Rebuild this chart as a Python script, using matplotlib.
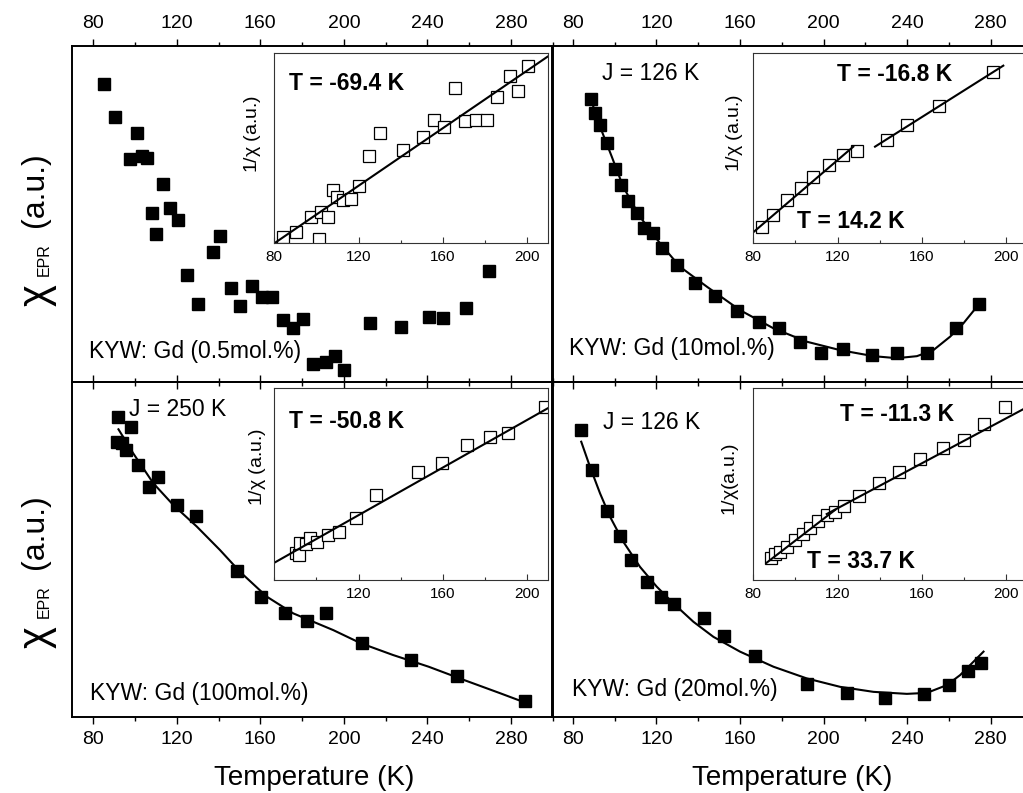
import numpy as np
import matplotlib.pyplot as plt
from matplotlib.ticker import MultipleLocator

plt.rcParams['font.family'] = ['Liberation Sans', 'DejaVu Sans']
plt.rcParams['mathtext.fontset'] = 'custom'
plt.rcParams['mathtext.rm'] = 'Liberation Sans'
plt.rcParams['mathtext.it'] = 'Liberation Sans:italic'
plt.rcParams['mathtext.default'] = 'regular'

# ---- data (chi in arbitrary units, 0-100 of panel height) ----
# KYW: Gd 0.5 mol.%
gd05_T = [85.3, 90.6, 97.4, 101.2, 103.4, 105.7, 108.2, 109.9, 113.2, 116.6, 120.4,
          124.8, 130.3, 137.5, 140.9, 146.1, 150.3, 155.8, 160.8, 165.4, 170.9, 175.7,
          180.4, 185.4, 191.6, 195.9, 200.3, 212.4, 227.3, 240.6, 247.6, 258.7, 269.5]
gd05_chi = [88.5, 78.9, 66.4, 74.1, 67.2, 66.7, 50.1, 43.9, 58.8, 51.6, 48.1,
            31.7, 23.2, 38.5, 43.3, 27.8, 22.4, 28.5, 25.3, 25.3, 18.5, 16.1,
            18.7, 5.3, 6.0, 7.6, 3.5, 17.4, 16.2, 19.3, 19.0, 21.9, 33.0]
gd05_inv_T = [84.1, 90.1, 97.4, 101.2, 102.0, 105.4, 107.8, 109.6, 112.7, 116.4, 120.3,
              124.9, 130.0, 141.0, 150.3, 155.5, 160.6, 165.5, 170.4, 175.7, 180.6,
              185.7, 191.7, 195.5, 200.2]
gd05_inv = [3.1, 5.8, 14.0, 2.4, 16.4, 14.0, 27.9, 24.4, 22.7, 23.4, 30.2,
            45.9, 58.0, 48.9, 55.9, 64.7, 61.2, 81.6, 64.3, 64.7, 64.7,
            76.9, 88.0, 80.1, 93.0]
gd05_fit_T = [80, 209.5]
gd05_fit = [0.0, 97.9]

# KYW: Gd 10 mol.%
gd10_T = [88.7, 90.6, 93.0, 96.2, 100.2, 102.9, 106.5, 110.6, 114.1, 118.5, 122.8, 130.0,
          138.6, 148.1, 158.7, 169.0, 178.9, 188.8, 198.8, 209.2, 223.4, 235.1, 249.5,
          263.3, 274.2]
gd10_chi = [84.0, 80.1, 76.4, 71.0, 63.2, 58.5, 53.9, 50.3, 45.7, 44.2, 39.9, 34.7,
            29.5, 25.6, 21.1, 17.7, 15.9, 11.9, 8.6, 9.6, 7.9, 8.5, 8.6,
            16.1, 23.1]
gd10_curve_T = [88.2, 93.0, 98.6, 104.1, 112.1, 121.7, 131.3, 144.1, 160.0, 176.0, 192.0,
                207.9, 223.9, 235.1, 244.7, 252.6, 260.6, 267.0, 273.4]
gd10_curve = [84.8, 75.9, 67.0, 58.0, 49.1, 41.2, 34.2, 28.3, 21.3, 15.9, 11.9,
              9.4, 7.6, 7.0, 7.6, 9.4, 13.4, 17.4, 22.3]
gd10_inv_T = [84.0, 89.5, 96.1, 102.6, 108.2, 116.0, 122.7, 129.0, 143.2, 152.7, 168.0, 193.5]
gd10_inv = [8.7, 14.8, 22.7, 28.9, 34.6, 41.1, 46.3, 48.6, 54.2, 62.1, 72.0, 90.0]
gd10_fit1_T = [80, 127.4]
gd10_fit1 = [5.8, 50.7]
gd10_fit2_T = [137.7, 198.5]
gd10_fit2 = [50.7, 93.2]

# KYW: Gd 100 mol.%
gd100_T = [91.3, 92.1, 93.7, 95.7, 98.0, 101.6, 106.9, 111.2, 120.0, 129.2, 148.8,
           160.4, 171.9, 182.5, 191.6, 208.7, 232.1, 254.0, 286.8]
gd100_chi = [82.1, 89.6, 81.6, 79.6, 86.4, 75.2, 68.7, 71.5, 63.2, 59.9, 43.6,
             35.7, 31.0, 28.6, 31.0, 22.0, 17.0, 12.3, 4.8]
gd100_curve_T = [92.1, 99.2, 108.8, 118.4, 129.6, 140.7, 150.3, 163.1, 175.8, 195.0,
                 208.1, 223.5, 240.6, 257.7, 274.8, 286.8]
gd100_curve = [85.8, 78.6, 69.7, 63.2, 56.8, 49.8, 43.3, 35.9, 30.9, 25.9,
               22.0, 18.5, 15.0, 11.0, 7.1, 4.3]
gd100_inv_T = [90.1, 91.8, 92.2, 95.1, 96.9, 100.3, 105.4, 110.5, 118.9, 128.1,
               148.1, 159.5, 171.4, 182.4, 190.7, 208.1]
gd100_inv = [13.9, 13.0, 19.1, 18.8, 21.7, 20.0, 23.5, 25.2, 32.2, 44.3,
             56.5, 60.9, 70.4, 74.8, 76.8, 90.4]
gd100_fit_T = [80, 209.5]
gd100_fit = [9.0, 89.5]

# KYW: Gd 20 mol.%
gd20_T = [84.0, 89.2, 96.2, 102.6, 107.7, 115.6, 122.3, 128.6, 142.8, 152.4, 167.4,
          192.3, 211.4, 229.5, 248.3, 260.3, 269.1, 275.3]
gd20_chi = [85.6, 73.7, 61.4, 54.0, 46.8, 40.3, 35.9, 33.7, 29.4, 24.2, 18.2,
            9.8, 7.1, 5.8, 6.8, 9.5, 13.8, 16.2]
gd20_curve_T = [84.0, 88.2, 93.0, 97.8, 104.1, 112.1, 120.1, 128.1, 137.7, 147.3, 160.0,
                176.0, 192.0, 207.9, 223.9, 239.9, 249.5, 259.0, 265.4, 271.8, 276.6]
gd20_curve = [82.1, 74.6, 66.7, 59.7, 52.3, 44.8, 38.9, 33.9, 28.4, 23.9, 19.5,
              15.0, 11.5, 9.0, 7.5, 6.9, 7.2, 9.5, 12.5, 16.5, 19.5]
gd20_inv_T = [88.2, 90.3, 92.7, 96.1, 99.8, 103.4, 106.9, 110.8, 114.8, 118.7, 123.0,
              130.2, 139.6, 149.1, 159.0, 170.0, 179.9, 189.3, 199.4]
gd20_inv = [11.3, 13.6, 14.8, 17.4, 20.9, 24.0, 27.3, 30.8, 33.9, 35.3, 38.6,
            43.8, 50.8, 56.5, 63.1, 69.0, 73.0, 81.4, 90.4]
gd20_fit1_T = [86.3, 118.7]
gd20_fit1 = [9.0, 36.5]
gd20_fit2_T = [114.8, 209.5]
gd20_fit2 = [34.4, 90.0]

W, H = 1023, 793
fig = plt.figure(figsize=(W / 100, H / 100), dpi=100)


def px_rect(x0, y0, x1, y1):
    # pixel box (top-left origin) -> figure fraction rect
    return [x0 / W, 1 - y1 / H, (x1 - x0) / W, (y1 - y0) / H]


def main_axes(rect, top):
    ax = fig.add_axes(rect)
    ax.set_facecolor('none')
    ax.set_xlim(70, 300)
    ax.set_ylim(0, 100)
    ax.xaxis.set_major_locator(MultipleLocator(40))
    ax.xaxis.set_minor_locator(MultipleLocator(20))
    ax.set_yticks([])
    for s in ax.spines.values():
        s.set_linewidth(1.4)
    ax.tick_params(axis='x', which='both', direction='out', top=True, bottom=True,
                   labeltop=top, labelbottom=not top, width=1.0, labelsize=14, pad=5)
    ax.tick_params(axis='x', which='major', length=5)
    ax.tick_params(axis='x', which='minor', length=3)
    return ax


def inset_axes(rect, ticks, ylab, ylab_x, ylab_y):
    ax = fig.add_axes(rect, zorder=5)
    ax.set_xlim(80, 209.5)
    ax.set_ylim(0, 100)
    ax.set_xticks(ticks)
    ax.xaxis.set_minor_locator(MultipleLocator(20))
    ax.set_yticks([])
    for s in ax.spines.values():
        s.set_linewidth(0.8)
        s.set_color('#333333')
    ax.tick_params(axis='x', which='both', direction='in', top=False, labelsize=11, pad=5,
                   width=0.8, color='#333333')
    ax.tick_params(axis='x', which='major', length=4)
    ax.tick_params(axis='x', which='minor', length=2.5)
    ax.text(ylab_x, ylab_y, ylab, transform=ax.transAxes, rotation=90,
            ha='center', va='center', fontsize=14)
    return ax


def chi_label(y_chi):
    # chi_EPR (a.u.) written bottom-to-top; big chi, small EPR subscript
    fig.text(37 / W, 1 - y_chi / H, '\u03c7', rotation=90, ha='center', va='center', fontsize=30)
    fig.text(44 / W, 1 - (y_chi - 35) / H, 'EPR', rotation=90, ha='center', va='center', fontsize=11.5)
    fig.text(35 / W, 1 - (y_chi - 105) / H, '(a.u.)', rotation=90, ha='center', va='center',
             fontsize=23)


mkw = dict(ls='none', marker='s', ms=9, color='black')
okw = dict(ls='none', marker='s', ms=8.5, mfc='white', mec='black', mew=0.9)
lkw = dict(color='black', lw=1.5)
ylab_inv = r'1/$\chi$ (a.u.)'

# ---- top-left: 0.5 mol.% ----
ax1 = main_axes(px_rect(72.3, 45.7, 552.7, 381.7), top=True)
ax1.plot(gd05_T, gd05_chi, **mkw)
ax1.text(0.034, 0.089, 'KYW: Gd (0.5mol.%)', transform=ax1.transAxes, fontsize=16.5, va='center')
in1 = inset_axes(px_rect(274.3, 52.7, 547.5, 243.3), [80, 120, 160, 200], ylab_inv, -0.081, 0.573)
in1.plot(gd05_inv_T, gd05_inv, **okw)
in1.plot(gd05_fit_T, gd05_fit, **lkw)
in1.text(0.054, 0.841, 'T = -69.4 K', transform=in1.transAxes, fontsize=16.5,
         fontweight='bold', va='center')

# ---- top-right: 10 mol.% ----
ax2 = main_axes(px_rect(552.0, 45.7, 1032.4, 381.7), top=True)
ax2.plot(gd10_curve_T, gd10_curve, **lkw)
ax2.plot(gd10_T, gd10_chi, **mkw)
ax2.text(0.036, 0.099, 'KYW: Gd (10mol.%)', transform=ax2.transAxes, fontsize=16.5, va='center')
ax2.text(0.1035, 0.918, 'J = 126 K', transform=ax2.transAxes, fontsize=16.5, va='center')
in2 = inset_axes(px_rect(753.3, 52.7, 1026.5, 243.3), [80, 120, 160, 200], ylab_inv, -0.07, 0.579)
in2.plot(gd10_inv_T, gd10_inv, **okw)
in2.plot(gd10_fit1_T, gd10_fit1, **lkw)
in2.plot(gd10_fit2_T, gd10_fit2, **lkw)
in2.text(0.305, 0.888, 'T = -16.8 K', transform=in2.transAxes, fontsize=16.5,
         fontweight='bold', va='center')
in2.text(0.159, 0.113, 'T = 14.2 K', transform=in2.transAxes, fontsize=16.5,
         fontweight='bold', va='center')

# ---- bottom-left: 100 mol.% ----
ax3 = main_axes(px_rect(72.3, 381.7, 552.7, 717.0), top=False)
ax3.plot(gd100_curve_T, gd100_curve, **lkw)
ax3.plot(gd100_T, gd100_chi, **mkw)
ax3.text(0.0368, 0.0707, 'KYW: Gd (100mol.%)', transform=ax3.transAxes, fontsize=16.5, va='center')
ax3.text(0.117, 0.9156, 'J = 250 K', transform=ax3.transAxes, fontsize=16.5, va='center')
in3 = inset_axes(px_rect(274.3, 388.3, 547.5, 580.0), [120, 160, 200], ylab_inv, -0.063, 0.591)
in3.plot(gd100_inv_T, gd100_inv, **okw)
in3.plot(gd100_fit_T, gd100_fit, **lkw)
in3.text(0.054, 0.826, 'T = -50.8 K', transform=in3.transAxes, fontsize=16.5,
         fontweight='bold', va='center')

# ---- bottom-right: 20 mol.% ----
ax4 = main_axes(px_rect(552.0, 381.7, 1032.4, 717.0), top=False)
ax4.plot(gd20_curve_T, gd20_curve, **lkw)
ax4.plot(gd20_T, gd20_chi, **mkw)
ax4.text(0.041, 0.0826, 'KYW: Gd (20mol.%)', transform=ax4.transAxes, fontsize=16.5, va='center')
ax4.text(0.106, 0.8777, 'J = 126 K', transform=ax4.transAxes, fontsize=16.5, va='center')
in4 = inset_axes(px_rect(753.3, 388.3, 1026.5, 580.0), [80, 120, 160, 200],
                 r'1/$\chi$(a.u.)', -0.085, 0.522)
in4.plot(gd20_inv_T, gd20_inv, **okw)
in4.plot(gd20_fit1_T, gd20_fit1, **lkw)
in4.plot(gd20_fit2_T, gd20_fit2, **lkw)
in4.text(0.317, 0.861, 'T = -11.3 K', transform=in4.transAxes, fontsize=16.5,
         fontweight='bold', va='center')
in4.text(0.195, 0.095, 'T = 33.7 K', transform=in4.transAxes, fontsize=16.5,
         fontweight='bold', va='center')

# ---- shared labels ----
chi_label(295)
chi_label(637)
fig.text(314 / W, 1 - 778 / H, 'Temperature (K)', ha='center', va='center', fontsize=20)
fig.text(792.5 / W, 1 - 778 / H, 'Temperature (K)', ha='center', va='center', fontsize=20)

fig.savefig('out.png', dpi=100, facecolor='white')
